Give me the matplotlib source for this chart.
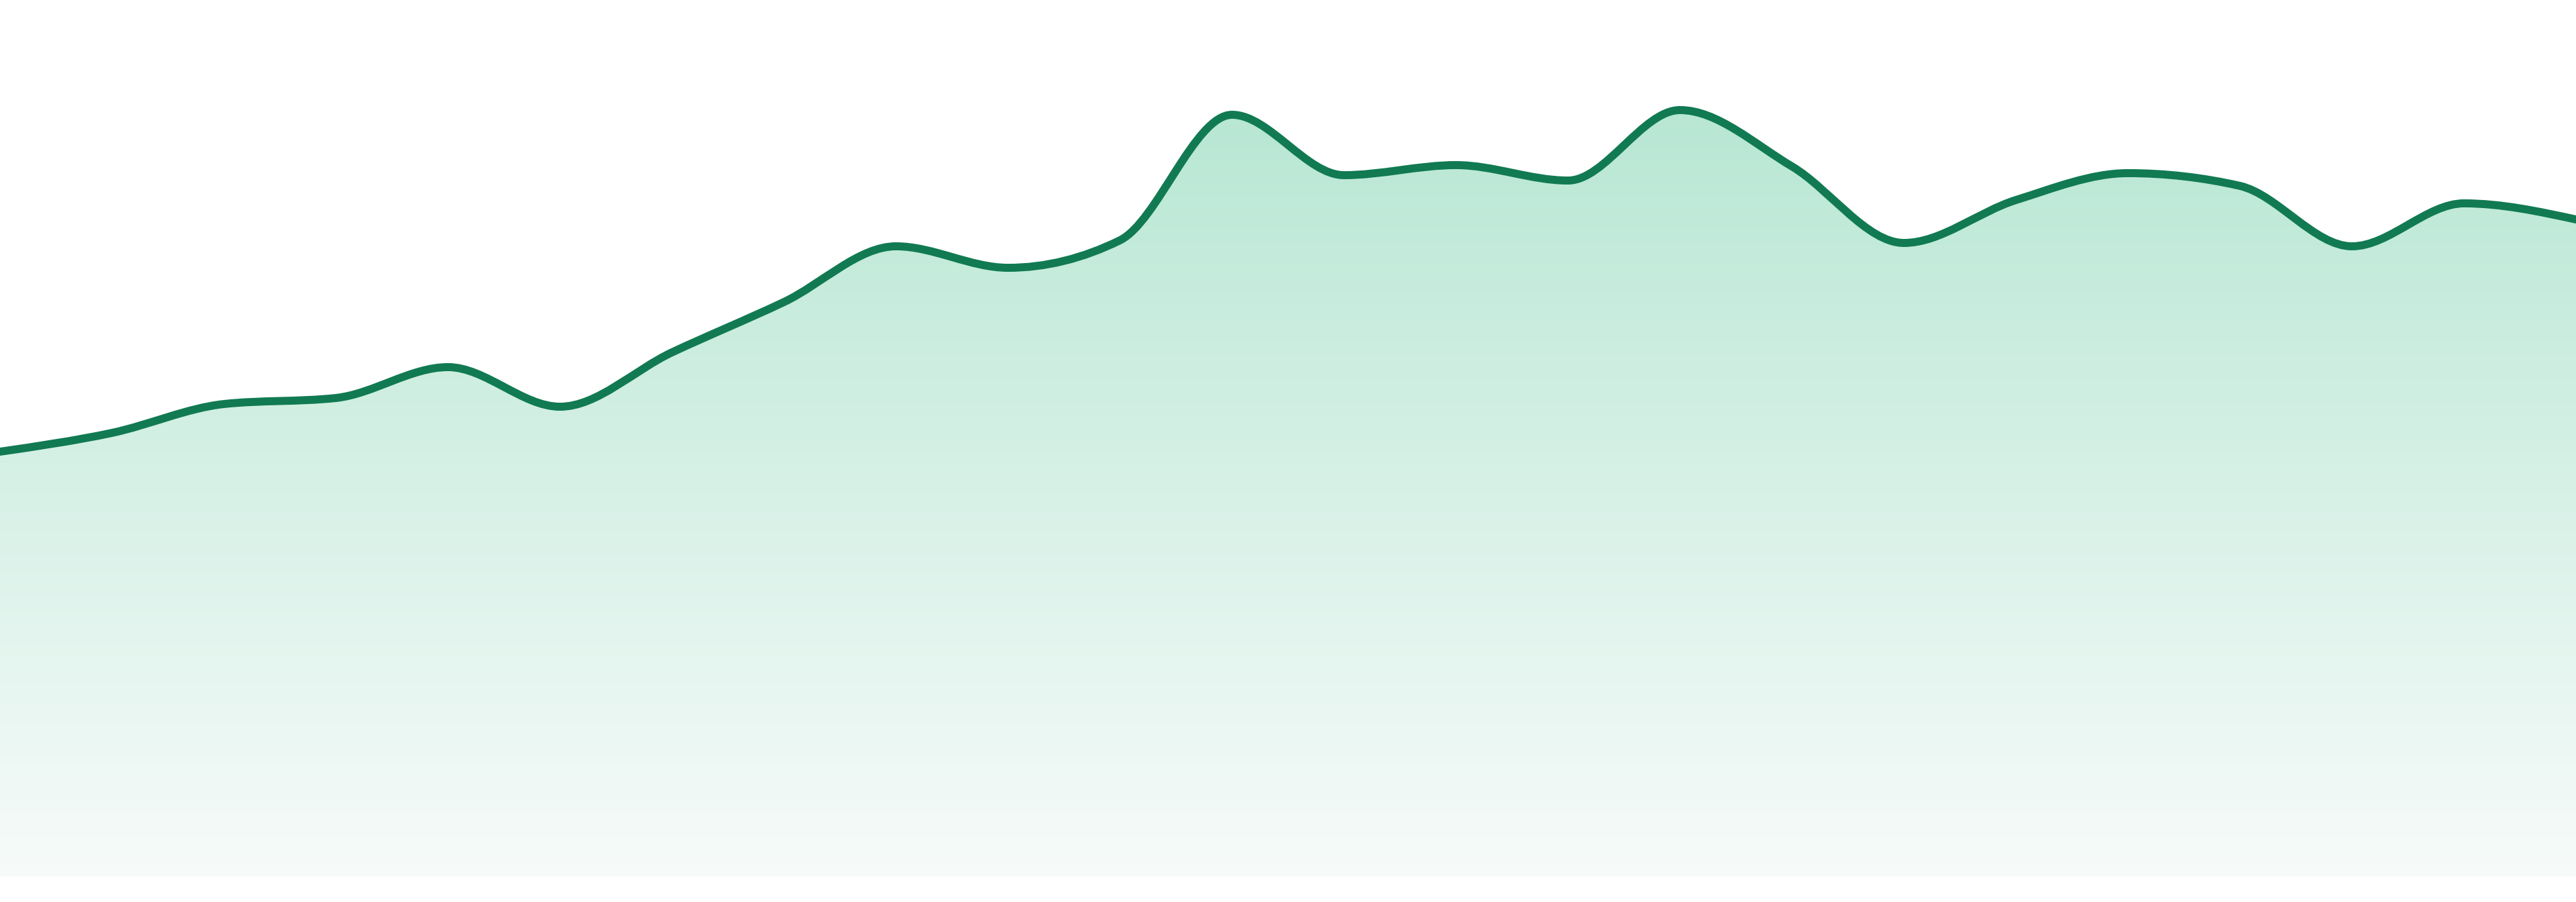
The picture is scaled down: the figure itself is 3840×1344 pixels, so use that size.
import numpy as np
import matplotlib
matplotlib.use("Agg")
import matplotlib.pyplot as plt
from matplotlib.path import Path
from matplotlib.patches import PathPatch

# data
hours = list(range(24))
values = [63.3, 66.1, 70.4, 71.3, 75.9, 70.0, 78.1, 85.6, 93.9, 90.7, 94.8, 113.5,
          104.5, 106.0, 103.7, 114.2, 105.8, 94.4, 100.8, 104.8, 102.9, 93.9, 100.3, 97.9]

line_color = "#117a53"
top_rgb = (184, 231, 212)
bottom_rgb = (247, 251, 250)


def monotone_bezier(x, y):
    x = np.asarray(x, float)
    y = np.asarray(y, float)
    n = len(x)
    h = np.diff(x)
    s = np.diff(y) / h
    t = np.zeros(n)
    for i in range(1, n - 1):
        s0, s1 = s[i - 1], s[i]
        p = (s0 * h[i] + s1 * h[i - 1]) / (h[i - 1] + h[i])
        t[i] = (np.sign(s0) + np.sign(s1)) * min(abs(s0), abs(s1), 0.5 * abs(p)) or 0.0
    t[0] = (3 * s[0] - t[1]) / 2
    t[-1] = (3 * s[-1] - t[-2]) / 2
    verts = [(x[0], y[0])]
    codes = [Path.MOVETO]
    for i in range(n - 1):
        dx = (x[i + 1] - x[i]) / 3
        verts += [(x[i] + dx, y[i] + dx * t[i]),
                  (x[i + 1] - dx, y[i + 1] - dx * t[i + 1]),
                  (x[i + 1], y[i + 1])]
        codes += [Path.CURVE4] * 3
    return verts, codes


W, H = 3840, 1344
fig = plt.figure(figsize=(W / 100, H / 100), dpi=100)
base_px = 1306
ax = fig.add_axes([0, (H - base_px) / H, 1, base_px / H])
ymax = 130.6
ax.set_xlim(hours[0], hours[-1])
ax.set_ylim(0, ymax)
ax.axis("off")

verts, codes = monotone_bezier(hours, values)
line_path = Path(verts, codes)

fill_verts = verts + [(hours[-1], 0), (hours[0], 0), verts[0]]
fill_codes = codes + [Path.LINETO, Path.LINETO, Path.CLOSEPOLY]
fill_patch = PathPatch(Path(fill_verts, fill_codes), facecolor="none", edgecolor="none")
ax.add_patch(fill_patch)

gtop = max(values)
nsteps = 256
frac = np.linspace(0, 1, nsteps)[:, None]  # 0 at top, 1 at bottom
top = np.array(top_rgb) / 255
bot = np.array(bottom_rgb) / 255
grad = top[None, :] * (1 - frac) + bot[None, :] * frac
grad = grad[:, None, :]
im = ax.imshow(grad, extent=[hours[0], hours[-1], 0, gtop], aspect="auto",
               origin="upper", interpolation="bilinear", zorder=1)
im.set_clip_path(fill_patch)
top_patch = ax.fill_between([hours[0], hours[-1]], gtop, ymax, color=top, lw=0, zorder=1)
top_patch.set_clip_path(fill_patch)

ax.add_patch(PathPatch(line_path, facecolor="none", edgecolor=line_color,
                       lw=8.6, capstyle="round", joinstyle="round", zorder=3))

fig.savefig("out.png", dpi=100, facecolor="white")
